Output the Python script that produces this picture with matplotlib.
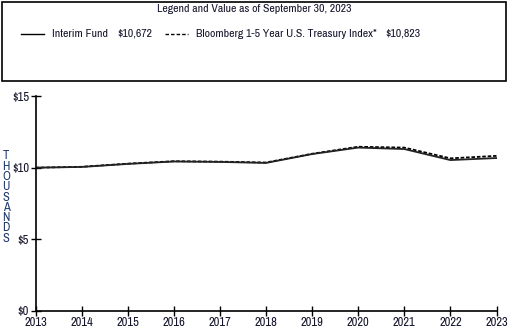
import matplotlib
matplotlib.use('Agg')
import matplotlib.pyplot as plt
from matplotlib import font_manager
from matplotlib.lines import Line2D
from matplotlib.patches import Rectangle

years = list(range(2013, 2024))
fund = [10.00, 10.05, 10.26, 10.43, 10.40, 10.33, 10.95, 11.40, 11.30, 10.53, 10.672]
index = [10.00, 10.06, 10.28, 10.45, 10.42, 10.36, 10.97, 11.46, 11.40, 10.65, 10.823]
yticks = [0, 5, 10, 15]
ytick_labels = ['$0', '$5', '$10', '$15']
series_names = ['Interim Fund', 'Bloomberg 1-5 Year U.S. Treasury Index*']
end_values = ['$10,672', '$10,823']

# use a narrow font if one is installed, else Liberation Sans
narrow = [f.name for f in font_manager.fontManager.ttflist
          if 'Narrow' in f.name or 'Condensed' in f.name]
if narrow:
    plt.rcParams['font.family'] = [sorted(narrow)[0], 'DejaVu Sans']
    fs = 9
else:
    plt.rcParams['font.family'] = ['Liberation Sans', 'DejaVu Sans']
    fs = 8
txt = '#14142b'

W, H = 508, 329
fig = plt.figure(figsize=(W / 100, H / 100), dpi=100)

def fx(px):
    return px / W

def fy(py):
    return 1 - py / H

renderer = fig.canvas.get_renderer()

def right_edge(t):
    return t.get_window_extent(renderer).x1

# legend box
fig.add_artist(Rectangle((fx(2), fy(81)), fx(504), 79 / H, transform=fig.transFigure,
                         fill=False, edgecolor='black', linewidth=1.2))
fig.text(fx(254), fy(9.5), 'Legend and Value as of September 30, 2023',
         ha='center', va='center', fontsize=fs - 0.5, color=txt)

x = 21
styles = ['-', (0, (2.5, 1.5))]
for name, val, ls in zip(series_names, end_values, styles):
    fig.add_artist(Line2D([fx(x), fx(x + 23)], [fy(34), fy(34)], transform=fig.transFigure,
                          color='black', linewidth=1, linestyle=ls))
    t = fig.text(fx(x + 31), fy(34), name, ha='left', va='center', fontsize=fs - 0.5, color=txt)
    x = right_edge(t) + 9
    t = fig.text(fx(x), fy(34), val, ha='left', va='center', fontsize=fs - 0.5, color=txt)
    x = right_edge(t) + 13

ax = fig.add_axes([fx(35.5), fy(311), fx(496.5 - 35.5), (311 - 96) / H])
ax.plot(years, index, color='black', linewidth=1.3, linestyle=(0, (2, 1)))
ax.plot(years, fund, color='#222222', linewidth=1.3)

ax.set_xlim(2013, 2023)
ax.set_ylim(0, 15)
ax.set_xticks(years)
ax.set_yticks(yticks)
ax.set_yticklabels(ytick_labels)
ax.tick_params(direction='inout', length=7, width=1, labelsize=fs, pad=1, labelcolor=txt)
for s in ['top', 'right']:
    ax.spines[s].set_visible(False)
for s in ['left', 'bottom']:
    ax.spines[s].set_linewidth(1.2)
ax.patch.set_alpha(0)

fig.text(fx(6), fy(197), '\n'.join('THOUSANDS'), ha='center', va='center',
         fontsize=fs, color='#1f3a6e', linespacing=0.92)

fig.savefig('out.png', dpi=100)
